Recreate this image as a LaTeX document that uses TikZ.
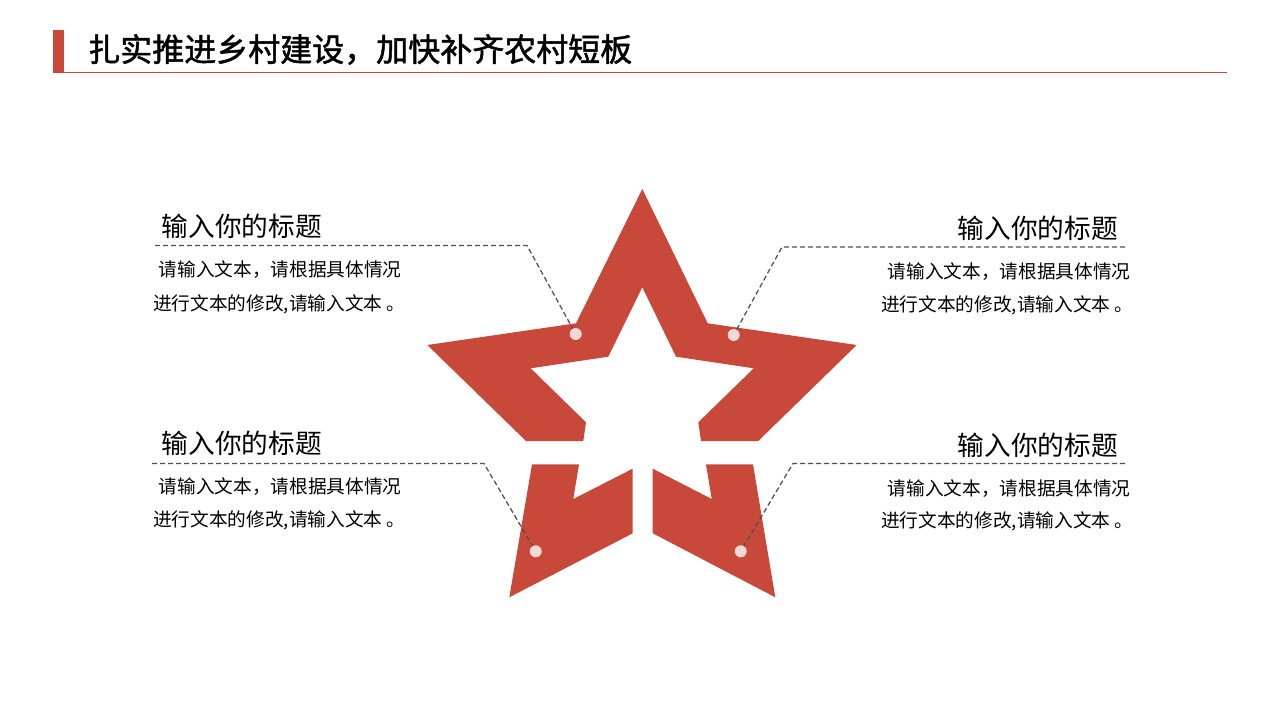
\documentclass[tikz,border=0pt]{standalone}
\usepackage{fontspec}
\setmainfont{Noto Sans CJK SC}
\newfontfamily\titlefont[FakeBold=1.5]{Noto Sans CJK SC}
\definecolor{starred}{HTML}{C8493A}
\definecolor{dotpink}{HTML}{F3D9D6}
\definecolor{leader}{HTML}{505050}
\tikzset{
  starpart/.style={fill=starred,draw=none},
  dotmark/.style={circle,fill=dotpink,draw=none,minimum size=9pt,inner sep=0pt},
  leaderline/.style={draw=leader,line width=0.95pt,dash pattern=on 3.8pt off 2.2pt},
  heading/.style={inner sep=0pt,font=\fontsize{20pt}{24pt}\selectfont,text=black},
  bodyline/.style={inner sep=0pt,font=\fontsize{14pt}{17pt}\selectfont,text=black},
  titletext/.style={inner sep=0pt,font=\fontsize{24pt}{28pt}\titlefont\selectfont,text=black}
}
\begin{document}
\begin{tikzpicture}[x=0.75pt,y=-0.75pt]
\useasboundingbox (0,0) rectangle (1280,720);
% title
\fill[starred] (53,30) rectangle (64,73);
\draw[starred,line width=0.9pt] (53,72.7) -- (1227,72.7);
\node[titletext,anchor=west] (title) at (88,49.5) {扎实推进乡村建设，加快补齐农村短板};
% star
\fill[starpart] (642.3,189) -- (707.7,323.3) -- (856.7,345) -- (758.3,441) -- (701,441) -- (698.3,422.3) -- (753.7,368.3) -- (676,356.7) -- (642.3,287.3) -- (608.3,356.7) -- (530.7,368.3) -- (586,422.3) -- (583.3,441) -- (526,441) -- (427.3,345) -- (576,323.3) -- cycle;
\fill[starpart] (532,464.3) -- (579,464.3) -- (573.3,499) -- (632.7,468.7) -- (632.7,533.3) -- (509.3,597.3) -- cycle;
\fill[starpart] (753,464.3) -- (706,464.3) -- (711.7,499) -- (652.7,468.7) -- (652.7,533.3) -- (775.3,597.3) -- cycle;
% dots
\node[dotmark] (d1) at (575.7,334) {};
\node[dotmark] (d2) at (733.7,335) {};
\node[dotmark] (d3) at (535.7,551.3) {};
\node[dotmark] (d4) at (740.7,551.3) {};
% leader coordinates
\coordinate (a1) at (155,245.5); \coordinate (b1) at (527,245.5);
\coordinate (a2) at (1125,247);  \coordinate (b2) at (782,247);
\coordinate (a3) at (152,463.5); \coordinate (b3) at (484,463.5);
\coordinate (a4) at (1125,463.5);\coordinate (b4) at (793,463.5);
\draw[leaderline] (a1) -- (b1) -- (d1);
\draw[leaderline] (a2) -- (b2) -- (d2);
\draw[leaderline] (a3) -- (b3) -- (d3);
\draw[leaderline] (a4) -- (b4) -- (d4);
% left top
\node[heading,anchor=west] (h1) at (161.5,226.5) {输入你的标题};
\node[bodyline,anchor=west] (t1a) at (158.5,270) {请输入文本，请根据具体情况};
\node[bodyline,anchor=west] (t1b) at (153,304) {进行文本的修改,请输入文本 。};
% right top
\node[heading,anchor=west] (h2) at (957.5,228.5) {输入你的标题};
\node[bodyline,anchor=west] (t2a) at (887.5,271.5) {请输入文本，请根据具体情况};
\node[bodyline,anchor=west] (t2b) at (881,305.5) {进行文本的修改,请输入文本 。};
% left bottom
\node[heading,anchor=west] (h3) at (161.5,443.5) {输入你的标题};
\node[bodyline,anchor=west] (t3a) at (158.5,487) {请输入文本，请根据具体情况};
\node[bodyline,anchor=west] (t3b) at (153,520) {进行文本的修改,请输入文本 。};
% right bottom
\node[heading,anchor=west] (h4) at (957.5,445.5) {输入你的标题};
\node[bodyline,anchor=west] (t4a) at (887.5,488.5) {请输入文本，请根据具体情况};
\node[bodyline,anchor=west] (t4b) at (881,521.5) {进行文本的修改,请输入文本 。};
\end{tikzpicture}
\end{document}
